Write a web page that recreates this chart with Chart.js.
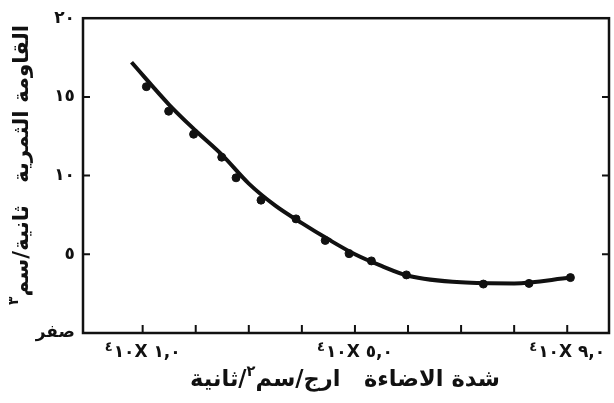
<!DOCTYPE html>
<html>
<head>
<meta charset="utf-8">
<script src="https://cdn.jsdelivr.net/npm/chart.js@4/dist/chart.umd.min.js"></script>
<style>
  html, body { margin: 0; padding: 0; background: #fff; }
  #wrap { width: 614px; height: 403px; }
</style>
</head>
<body>
<div id="wrap"><canvas id="resistanceChart"></canvas></div>
<script>
// measured points: light intensity (x10^4 erg/cm2/s) against resistance
const intensity = [1.07, 1.49, 1.96, 2.49, 2.76, 3.23, 3.89, 4.44, 4.89, 5.31, 5.97, 7.42, 8.28, 9.06];
const resistance = [15.65, 14.09, 12.63, 11.17, 9.86, 8.44, 7.25, 5.88, 5.04, 4.58, 3.69, 3.11, 3.15, 3.52];

// smoothed curve through the measurements
const curveX = [0.79, 1.5, 2, 2.5, 3, 3.5, 4, 4.5, 5, 5.5, 6, 7, 8, 9.06];
const curveY = [17.2, 14.5, 12.85, 11.3, 9.49, 8.09, 6.98, 5.95, 5.0, 4.26, 3.64, 3.22, 3.15, 3.52];

const xTicks = [1, 2, 3, 4, 5, 6, 7, 8, 9];
const xLabelValues = [1, 5, 9];
const xLabelText = ["١,٠", "٥,٠", "٩,٠"];
const yTicks = [0, 5, 10, 15, 20];
const yTickText = ["صفر", "٥", "١٠", "١٥", "٢٠"];

// title pieces in reading order (right to left); [text, sup] marks a small raised digit
const xTitleParts = [["شدة"], [" "], ["الاضاءة"], ["   "], ["ارج"], ["/"], ["سم"], ["٢", true], ["/"], ["ثانية"]];
const yTitleParts = [["القاومة"], [" "], ["الثمرية"], ["   "], ["ثانية"], ["/"], ["سم"], ["٣", true]];

const FONT = "'DejaVu Sans', sans-serif";
const INK = "#111";

// lays pieces out from the right end leftwards, sized to the given width
function drawPieces(ctx, parts, cx, cy, width) {
  const measure = (size) => parts.reduce((w, [t, sup]) => {
    ctx.font = "bold " + (sup ? size * 0.65 : size) + "px " + FONT;
    return w + ctx.measureText(t).width;
  }, 0);
  const size = 20 * width / measure(20);
  let px = cx + measure(size) / 2;
  ctx.textAlign = "right";
  ctx.textBaseline = "middle";
  parts.forEach(([t, sup]) => {
    ctx.font = "bold " + (sup ? size * 0.65 : size) + "px " + FONT;
    ctx.fillText(t, px, sup ? cy - size * 0.35 : cy);
    px -= ctx.measureText(t).width;
  });
}

const frameAndLabels = {
  id: "frameAndLabels",
  afterDraw(chart) {
    const { ctx, chartArea: a, scales: { x, y } } = chart;
    ctx.save();
    ctx.strokeStyle = INK;
    ctx.fillStyle = INK;
    ctx.lineWidth = 2.5;
    ctx.strokeRect(a.left, a.top, a.right - a.left, a.bottom - a.top);

    // inward tick marks
    ctx.lineWidth = 2;
    ctx.beginPath();
    xTicks.forEach((v) => {
      const px = x.getPixelForValue(v);
      ctx.moveTo(px, a.bottom);
      ctx.lineTo(px, a.bottom - 8);
    });
    yTicks.slice(1, -1).forEach((v) => {
      const py = y.getPixelForValue(v);
      ctx.moveTo(a.left, py);
      ctx.lineTo(a.left + 7, py);
      ctx.moveTo(a.right, py);
      ctx.lineTo(a.right - 7, py);
    });
    ctx.stroke();

    // x tick labels: "value X 10^4", with the power written on the left
    ctx.direction = "ltr";
    ctx.textAlign = "left";
    ctx.textBaseline = "alphabetic";
    xLabelValues.forEach((v, i) => {
      const main = "١٠X " + xLabelText[i];
      ctx.font = "bold 13px " + FONT;
      const wSup = ctx.measureText("٤").width + 1;
      ctx.font = "bold 17px " + FONT;
      const wMain = ctx.measureText(main).width;
      const start = x.getPixelForValue(v) - (wSup + wMain) / 2;
      ctx.fillText(main, start + wSup, a.bottom + 24);
      ctx.font = "bold 13px " + FONT;
      ctx.fillText("٤", start, a.bottom + 18);
    });

    // axis titles
    drawPieces(ctx, xTitleParts, 345, 380, 310);
    ctx.translate(22, 165);
    ctx.rotate(-Math.PI / 2);
    drawPieces(ctx, yTitleParts, 0, 0, 280);
    ctx.restore();
  },
};

new Chart(document.getElementById("resistanceChart"), {
  type: "scatter",
  data: {
    datasets: [
      {
        label: "curve",
        type: "line",
        data: curveX.map((v, i) => ({ x: v, y: curveY[i] })),
        borderColor: INK,
        borderWidth: 4,
        pointRadius: 0,
        cubicInterpolationMode: "monotone",
        fill: false,
      },
      {
        label: "measured",
        data: intensity.map((v, i) => ({ x: v, y: resistance[i] })),
        backgroundColor: INK,
        borderColor: INK,
        pointRadius: 4,
        showLine: false,
      },
    ],
  },
  options: {
    responsive: true,
    maintainAspectRatio: false,
    devicePixelRatio: 1,
    animation: false,
    layout: { padding: { top: 14, right: 2, left: 0, bottom: 0 } },
    plugins: { legend: { display: false }, tooltip: { enabled: false } },
    scales: {
      x: {
        type: "linear",
        min: -0.124,
        max: 9.787,
        grid: { display: false, drawTicks: false },
        border: { display: false },
        ticks: { display: false },
        afterFit: (s) => { s.height = 70; },
      },
      y: {
        min: 0,
        max: 20,
        grid: { display: false, drawTicks: false },
        border: { display: false },
        afterBuildTicks: (s) => { s.ticks = yTicks.map((v) => ({ value: v })); },
        ticks: {
          padding: 8,
          color: INK,
          font: { family: FONT, size: 17, weight: "bold" },
          callback: (v) => yTickText[yTicks.indexOf(v)],
        },
        afterFit: (s) => { s.width = 83; },
      },
    },
  },
  plugins: [frameAndLabels],
});
</script>
</body>
</html>
